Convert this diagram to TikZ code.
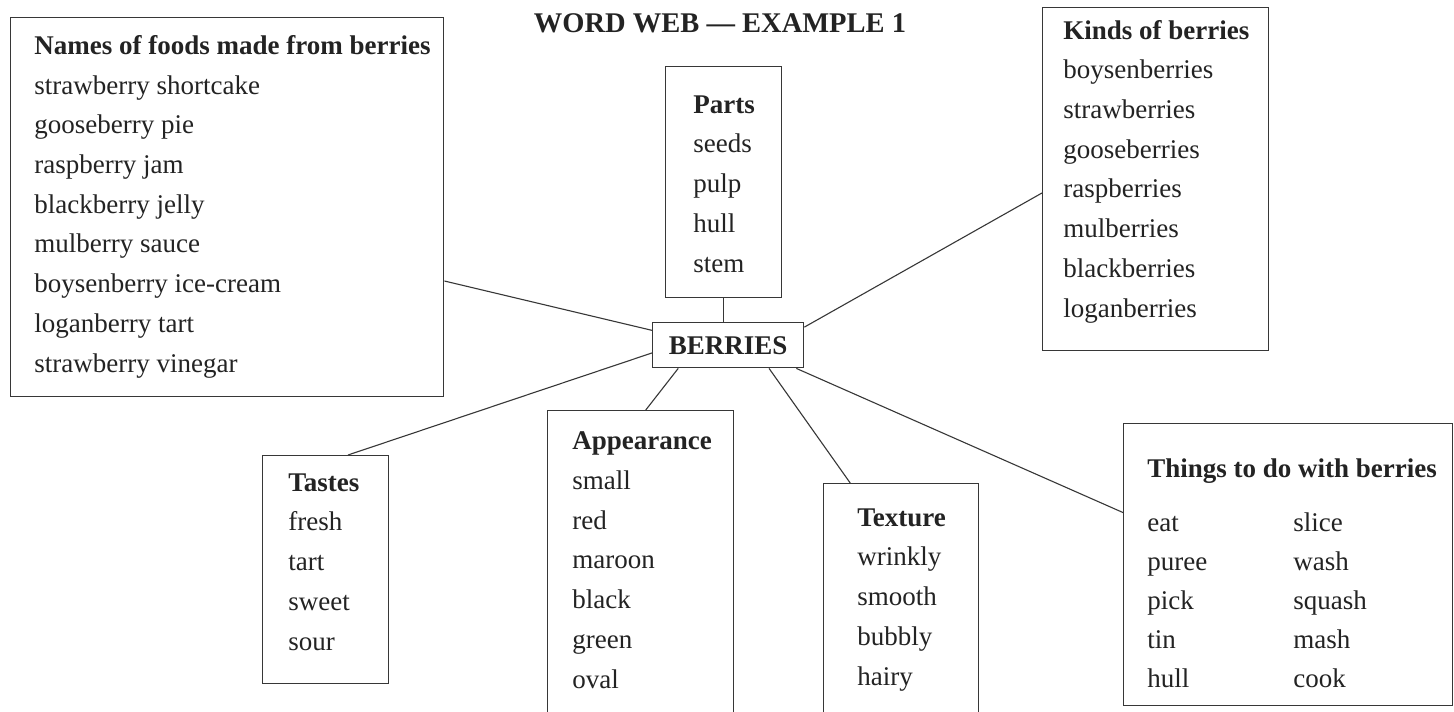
\documentclass[tikz,border=0pt]{standalone}
\usepackage{fontspec}
\setmainfont{Liberation Serif}
\usetikzlibrary{calc}

\tikzset{every picture/.style={line width=0.75pt}}
\tikzset{
  box/.style={draw={rgb, 255:red, 55; green, 55; blue, 55 }, line width=1.4pt, inner sep=0pt, anchor=north west},
  words/.style={text={rgb, 255:red, 35; green, 35; blue, 35 }, align=left, anchor=base west, inner sep=0pt, font=\fontsize{27}{39.7}\selectfont},
  link/.style={draw={rgb, 255:red, 55; green, 55; blue, 55 }, line width=1.1pt},
}

\begin{document}
\begin{tikzpicture}[x=1pt,y=1pt,yscale=-1,xscale=1]
\fill[white] (0,0) rectangle (1454,712);
\useasboundingbox (0,0) rectangle (1454,712);

% Title
\node[words, anchor=base, font=\fontsize{28.5}{34}\selectfont\bfseries] (title) at (720,32) {WORD WEB --- EXAMPLE 1};

%Shape: Rectangle [names]
\node[box, minimum width=433, minimum height=379] (names) at (10,17) {};
%Shape: Rectangle [parts]
\node[box, minimum width=116, minimum height=231] (parts) at (665,66) {};
%Shape: Rectangle [kinds]
\node[box, minimum width=226, minimum height=343] (kinds) at (1042,7) {};
%Shape: Rectangle [berries]
\node[box, minimum width=151, minimum height=45, text={rgb, 255:red, 35; green, 35; blue, 35 }, font=\fontsize{27}{32}\selectfont\bfseries] (berries) at (652,322) {BERRIES};
%Shape: Rectangle [tastes]
\node[box, minimum width=126, minimum height=228] (tastes) at (262,455) {};
%Shape: Rectangle [appearance]
\node[box, minimum width=186, minimum height=310] (appearance) at (547,410) {};
%Shape: Rectangle [texture]
\node[box, minimum width=155, minimum height=236] (texture) at (823,483) {};
%Shape: Rectangle [things]
\node[box, minimum width=329, minimum height=282] (things) at (1123,423) {};

%Straight Lines
\draw[link] ($(names.north east)!0.694!(names.south east)$) -- ($(berries.north west)!0.18!(berries.south west)$);
%Straight Lines
\draw[link] (parts.south) -- (parts.south |- berries.north);
%Straight Lines
\draw[link] ($(kinds.north west)!0.54!(kinds.south west)$) -- ($(berries.north east)!0.11!(berries.south east)$);
%Straight Lines
\draw[link] ($(tastes.north west)!0.675!(tastes.north east)$) -- ($(berries.north west)!0.667!(berries.south west)$);
%Straight Lines
\draw[link] ($(appearance.north west)!0.527!(appearance.north east)$) -- ($(berries.south west)!0.172!(berries.south east)$);
%Straight Lines
\draw[link] ($(texture.north west)!0.174!(texture.north east)$) -- ($(berries.south west)!0.768!(berries.south east)$);
%Straight Lines
\draw[link] ($(things.north west)!0.316!(things.south west)$) -- ($(berries.south west)!0.947!(berries.south east)$);

% Text Node (placed at the base line of its last line)
\node[words] (namestxt) at (34,372) {\textbf{Names of foods made from berries}\\strawberry shortcake\\gooseberry pie\\raspberry jam\\blackberry jelly\\mulberry sauce\\boysenberry ice-cream\\loganberry tart\\strawberry vinegar};
% Text Node
\node[words] (partstxt) at (693,272) {\textbf{Parts}\\seeds\\pulp\\hull\\stem};
% Text Node
\node[words] (kindstxt) at (1063,317) {\textbf{Kinds of berries}\\boysenberries\\strawberries\\gooseberries\\raspberries\\mulberries\\blackberries\\loganberries};
% Text Node
\node[words] (tastestxt) at (288,650) {\textbf{Tastes}\\fresh\\tart\\sweet\\sour};
% Text Node
\node[words] (appearancetxt) at (572,688) {\textbf{Appearance}\\small\\red\\maroon\\black\\green\\oval};
% Text Node
\node[words] (texturetxt) at (857,685) {\textbf{Texture}\\wrinkly\\smooth\\bubbly\\hairy};
% Text Node
\node[words] (thingshead) at (1147,477) {\textbf{Things to do with berries}};
% Text Node
\node[words, font=\fontsize{27}{38.8}\selectfont] (thingsa) at (1147,687) {eat\\puree\\pick\\tin\\hull};
% Text Node
\node[words, font=\fontsize{27}{38.8}\selectfont] (thingsb) at (1293,687) {slice\\wash\\squash\\mash\\cook};

\end{tikzpicture}
\end{document}
